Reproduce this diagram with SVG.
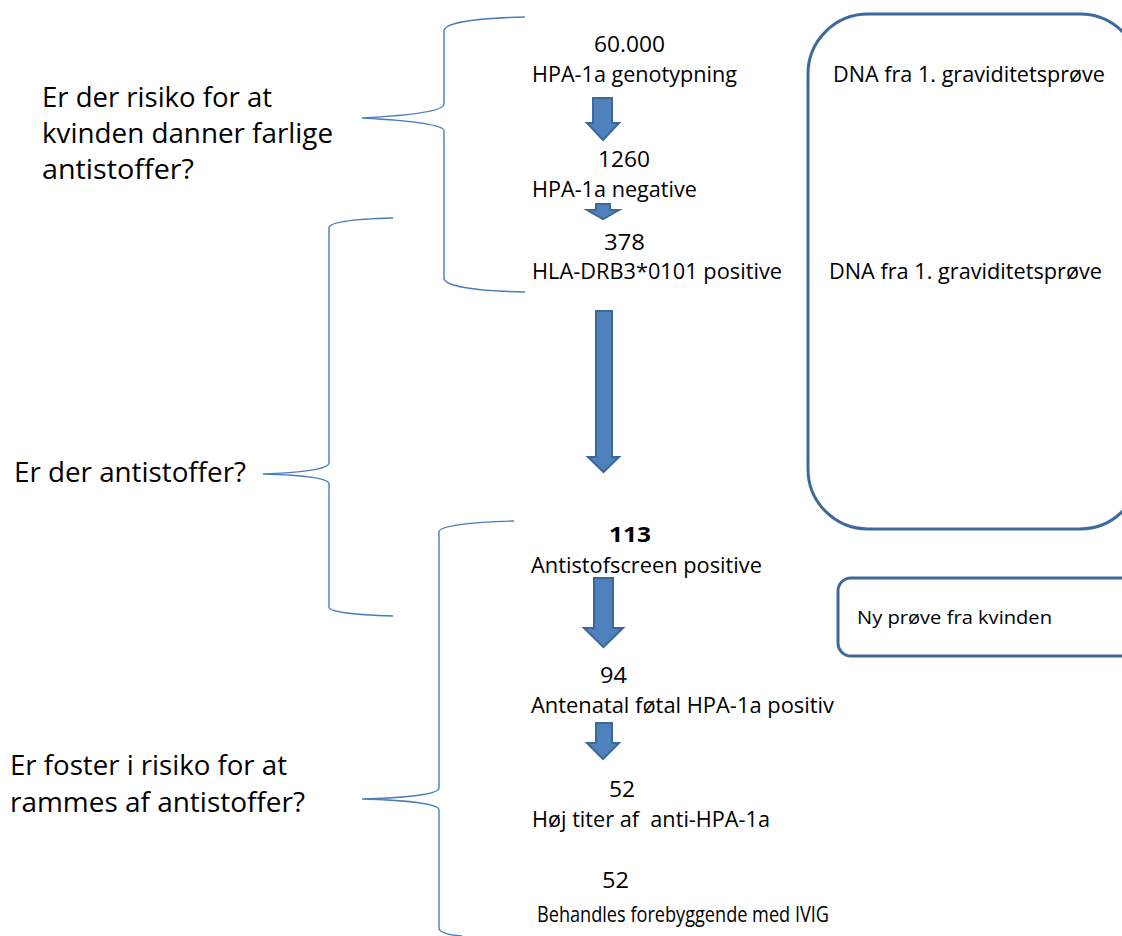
<svg xmlns="http://www.w3.org/2000/svg" width="1122" height="936" viewBox="0 0 1122 936">
<style>
text{font-family:"Open Sans","Noto Sans","Liberation Sans",sans-serif;fill:#000}
.q{font-size:28px}
.m{font-size:21px}
.s{font-size:18px}
.b{font-weight:bold}
.pre{white-space:pre}
.br{fill:none;stroke:#4A7EBB;stroke-width:1.4}
.box{fill:none;stroke:#3E6A9A;stroke-width:3}
.ar{fill:#4F81BD;stroke:#3C679A;stroke-width:2;stroke-linejoin:miter}
</style>
<rect width="1122" height="936" fill="#fff"/>
<g id="connectors">
<path class="ar" d="M593,98 H612 V123 H619 L603,140 L587,123 H593 Z"/>
<path class="ar" d="M596,204 H610 V210 H619 L603,219 L587,210 H596 Z"/>
<path class="ar" d="M596,311 H612 V457 H619 L603.5,472 L588,457 H596 Z"/>
<path class="ar" d="M594,578 H613 V628 H623 L603.5,647 L584,628 H594 Z"/>
<path class="ar" d="M596,723 H612 V743 H619 L603,759 L587,743 H596 Z"/>
</g>
<g id="bracket1">
<path class="br" d="M525,17 C475,18 444,23 444,31 V104 C444,112 400,116 362,118 C400,120 444,124 444,131 V278 C444,286 475,291 525,292"/>
</g>
<g id="bracket2">
<path class="br" d="M393,218 C355,219 329,222 329,228 V463 C329,469 300,473 263,474 C300,475 329,478 329,484 V607 C329,612 355,615 393,616"/>
</g>
<g id="bracket3">
<path class="br" d="M514,521 C470,522 439,526 439,532 V788 C439,795 400,798 362,799 C400,800 439,803 439,810 V928 C439,933 450,935 462,936"/>
</g>
<g id="q1">
<text class="q" x="42" y="107" textLength="230" lengthAdjust="spacingAndGlyphs">Er der risiko for at</text>
<text class="q" x="42" y="143" textLength="291" lengthAdjust="spacingAndGlyphs">kvinden danner farlige</text>
<text class="q" x="42" y="179" textLength="152" lengthAdjust="spacingAndGlyphs">antistoffer?</text>
</g>
<g id="q2">
<text class="q" x="14" y="482" textLength="232" lengthAdjust="spacingAndGlyphs">Er der antistoffer?</text>
</g>
<g id="q3">
<text class="q" x="10" y="775" textLength="277" lengthAdjust="spacingAndGlyphs">Er foster i risiko for at</text>
<text class="q" x="10" y="812" textLength="295" lengthAdjust="spacingAndGlyphs">rammes af antistoffer?</text>
</g>
<g id="step1">
<text class="m" x="594" y="52" textLength="71" lengthAdjust="spacingAndGlyphs">60.000</text>
<text class="m" x="532" y="82" textLength="205" lengthAdjust="spacingAndGlyphs">HPA-1a genotypning</text>
</g>
<g id="step2">
<text class="m" x="598" y="167" textLength="52" lengthAdjust="spacingAndGlyphs">1260</text>
<text class="m" x="532" y="197" textLength="165" lengthAdjust="spacingAndGlyphs">HPA-1a negative</text>
</g>
<g id="step3">
<text class="m" x="604" y="250" textLength="41" lengthAdjust="spacingAndGlyphs">378</text>
<text class="m" x="532" y="279" textLength="250" lengthAdjust="spacingAndGlyphs">HLA-DRB3*0101 positive</text>
</g>
<g id="step4">
<text class="m b" x="609" y="542" textLength="42" lengthAdjust="spacingAndGlyphs">113</text>
<text class="m" x="531" y="573" textLength="231" lengthAdjust="spacingAndGlyphs">Antistofscreen positive</text>
</g>
<g id="step5">
<text class="m" x="600" y="683" textLength="27" lengthAdjust="spacingAndGlyphs">94</text>
<text class="m" x="531" y="713" textLength="303" lengthAdjust="spacingAndGlyphs">Antenatal føtal HPA-1a positiv</text>
</g>
<g id="step6">
<text class="m" x="609" y="797" textLength="26" lengthAdjust="spacingAndGlyphs">52</text>
<text class="m pre" x="532" y="827" textLength="238" lengthAdjust="spacingAndGlyphs" xml:space="preserve">Høj titer af  anti-HPA-1a</text>
</g>
<g id="step7">
<text class="m" x="602" y="888" textLength="27" lengthAdjust="spacingAndGlyphs">52</text>
<text class="m" x="537" y="922" textLength="292" lengthAdjust="spacingAndGlyphs">Behandles forebyggende med IVIG</text>
</g>
<g id="dnaBox">
<rect class="box" x="808" y="14" width="332" height="515" rx="60" ry="60"/>
<text class="m" x="833" y="82" textLength="272" lengthAdjust="spacingAndGlyphs">DNA fra 1. graviditetsprøve</text>
<text class="m" x="829" y="279" textLength="273" lengthAdjust="spacingAndGlyphs">DNA fra 1. graviditetsprøve</text>
</g>
<g id="nyBox">
<rect class="box" x="838" y="578" width="300" height="78" rx="13" ry="13"/>
<text class="s" x="857" y="624" textLength="195" lengthAdjust="spacingAndGlyphs">Ny prøve fra kvinden</text>
</g>
</svg>
